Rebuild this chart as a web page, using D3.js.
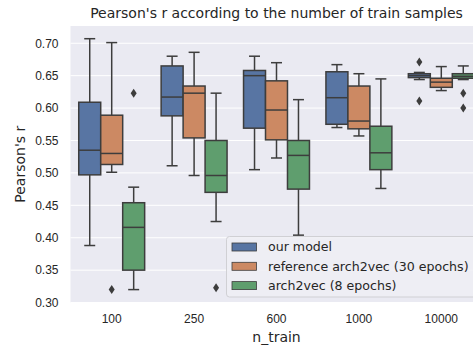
<!DOCTYPE html>
<html>
<head>
<meta charset="utf-8">
<script src="https://cdn.jsdelivr.net/npm/d3@7"></script>
<style>
  body { margin: 0; background: #fff; overflow: hidden; }
  svg { display: block; font-family: "DejaVu Sans", sans-serif; }
</style>
</head>
<body>
<div class="chartdiv"></div>
<script>
// categories on the x axis
var categories = ['100', '250', '600', '1000', '10000']
var hues = ['our model', 'reference arch2vec (30 epochs)', 'arch2vec (8 epochs)']
var hueColors = ['#5875a3', '#cc8963', '#5f9e6e']
var yTicks = [0.30, 0.35, 0.40, 0.45, 0.50, 0.55, 0.60, 0.65, 0.70]

// box stats per category: [whisker low, q1, median, q3, whisker high]
var ourModel = [
    [0.388, 0.497, 0.535, 0.609, 0.707],
    [0.511, 0.588, 0.617, 0.665, 0.680],
    [0.505, 0.569, 0.650, 0.658, 0.680],
    [0.570, 0.575, 0.616, 0.656, 0.667],
    [0.644, 0.647, 0.650, 0.653, 0.655]
]
var refArch2vec = [
    [0.501, 0.513, 0.530, 0.589, 0.701],
    [0.496, 0.554, 0.623, 0.634, 0.686],
    [0.523, 0.551, 0.597, 0.642, 0.670],
    [0.557, 0.568, 0.580, 0.634, 0.653],
    [0.627, 0.632, 0.640, 0.646, 0.664]
]
var arch2vec8 = [
    [0.320, 0.350, 0.416, 0.454, 0.478],
    [0.425, 0.470, 0.496, 0.550, 0.623],
    [0.404, 0.475, 0.527, 0.550, 0.613],
    [0.476, 0.505, 0.531, 0.572, 0.645],
    [0.644, 0.646, 0.649, 0.653, 0.665]
]
// fliers per category
var ourModelOut = [[], [], [], [], [0.671, 0.611]]
var refArch2vecOut = [[0.320], [], [], [], []]
var arch2vec8Out = [[0.623], [0.323], [], [], [0.623, 0.600]]

var w = 473, h = 347
var margin = { left: 70.5, top: 26, right: 482.5, bottom: 302.5 }
var lineCol = '#3d3d3d'
var tickSize = '12px', legendSize = '12.6px', labelSize = '14px'

var svg = d3.select('.chartdiv').append('svg')
    .attr('width', w)
    .attr('height', h)

// background
svg.append('rect')
    .attr('x', margin.left).attr('y', margin.top)
    .attr('width', margin.right - margin.left)
    .attr('height', margin.bottom - margin.top)
    .attr('fill', '#eaeaf2')

var xScale = d3.scaleBand()
    .domain(categories)
    .range([margin.left, margin.right])
var hueScale = d3.scaleBand()
    .domain(hues)
    .range([0, xScale.bandwidth() * 0.8])
var yScale = d3.scaleLinear()
    .domain([0.3001, 0.7266])
    .range([margin.bottom, margin.top])

// grid
svg.append('g').selectAll('line')
    .data(yTicks)
    .enter().append('line')
    .attr('x1', margin.left).attr('x2', margin.right)
    .attr('y1', d => yScale(d)).attr('y2', d => yScale(d))
    .attr('stroke', '#fff').attr('stroke-width', 1)

// y axis
var yAxis = d3.axisLeft(yScale).tickValues(yTicks).tickFormat(d3.format('.2f')).tickSize(0).tickPadding(12)
var gy = svg.append('g')
    .attr('transform', 'translate(' + margin.left + ',0)')
    .call(yAxis)
gy.select('.domain').remove()
gy.selectAll('text').style('font-size', tickSize).attr('fill', '#262626')

// x axis
var xAxis = d3.axisBottom(xScale).tickSize(0).tickPadding(12)
var gx = svg.append('g')
    .attr('transform', 'translate(0,' + margin.bottom + ')')
    .call(xAxis)
gx.select('.domain').remove()
gx.selectAll('text').style('font-size', tickSize).attr('fill', '#262626')

var series = [
    { name: hues[0], stats: ourModel, out: ourModelOut, color: hueColors[0] },
    { name: hues[1], stats: refArch2vec, out: refArch2vecOut, color: hueColors[1] },
    { name: hues[2], stats: arch2vec8, out: arch2vec8Out, color: hueColors[2] }
]

var gBoxes = svg.append('g').attr('id', 'boxes')
series.forEach(s => {
    s.stats.forEach((st, i) => {
        let cat = categories[i]
        let x0 = xScale(cat) + xScale.bandwidth() * 0.1 + hueScale(s.name)
        let bw = hueScale.bandwidth()
        let cx = x0 + bw / 2
        let g = gBoxes.append('g')
        // whiskers
        g.append('line')
            .attr('x1', cx).attr('x2', cx)
            .attr('y1', yScale(st[0])).attr('y2', yScale(st[1]))
            .attr('stroke', lineCol).attr('stroke-width', 1.5)
        g.append('line')
            .attr('x1', cx).attr('x2', cx)
            .attr('y1', yScale(st[3])).attr('y2', yScale(st[4]))
            .attr('stroke', lineCol).attr('stroke-width', 1.5)
        // caps
        ;[st[0], st[4]].forEach(v => {
            g.append('line')
                .attr('x1', cx - bw / 4).attr('x2', cx + bw / 4)
                .attr('y1', yScale(v)).attr('y2', yScale(v))
                .attr('stroke', lineCol).attr('stroke-width', 1.5)
        })
        // box
        g.append('rect')
            .attr('x', x0).attr('y', yScale(st[3]))
            .attr('width', bw).attr('height', yScale(st[1]) - yScale(st[3]))
            .attr('fill', s.color)
            .attr('stroke', lineCol).attr('stroke-width', 1.5)
        // median
        g.append('line')
            .attr('x1', x0).attr('x2', x0 + bw)
            .attr('y1', yScale(st[2])).attr('y2', yScale(st[2]))
            .attr('stroke', lineCol).attr('stroke-width', 1.5)
        // fliers
        s.out[i].forEach(v => {
            let y = yScale(v)
            g.append('path')
                .attr('d', 'M' + cx + ',' + (y - 4.5) + 'L' + (cx + 3) + ',' + y + 'L' + cx + ',' + (y + 4.5) + 'L' + (cx - 3) + ',' + y + 'Z')
                .attr('fill', lineCol)
        })
    })
})

// title
svg.append('text')
    .attr('x', (margin.left + margin.right) / 2)
    .attr('y', 18)
    .attr('text-anchor', 'middle')
    .style('font-size', labelSize)
    .attr('fill', '#262626')
    .text("Pearson's r according to the number of train samples")

// axis labels
svg.append('text')
    .attr('x', (margin.left + margin.right) / 2)
    .attr('y', 342)
    .attr('text-anchor', 'middle')
    .style('font-size', labelSize)
    .attr('fill', '#262626')
    .text('n_train')
svg.append('text')
    .attr('transform', 'translate(25,' + ((margin.top + margin.bottom) / 2) + ') rotate(-90)')
    .attr('text-anchor', 'middle')
    .style('font-size', labelSize)
    .attr('fill', '#262626')
    .text("Pearson's r")

// legend
var lg = svg.append('g').attr('transform', 'translate(226.5,236.5)')
lg.append('rect')
    .attr('width', 262).attr('height', 60.5)
    .attr('rx', 3)
    .attr('fill', '#eeeef4').attr('fill-opacity', 0.9)
    .attr('stroke', '#d0d0d4').attr('stroke-width', 1)
hues.forEach((d, i) => {
    let yy = 10.5 + i * 19.3
    lg.append('rect')
        .attr('x', 5.5).attr('y', yy - 4)
        .attr('width', 24.5).attr('height', 8)
        .attr('fill', hueColors[i])
        .attr('stroke', lineCol).attr('stroke-width', 0.8)
    lg.append('text')
        .attr('x', 41.5).attr('y', yy)
        .attr('dy', '0.35em')
        .style('font-size', legendSize)
        .attr('fill', '#262626')
        .text(d)
})
</script>
</body>
</html>
